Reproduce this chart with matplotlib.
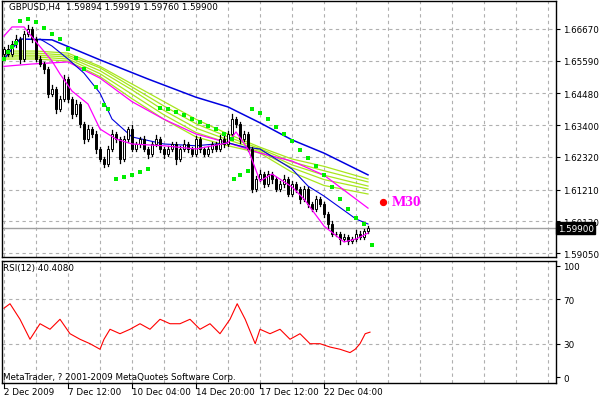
import matplotlib
matplotlib.use("Agg")
import matplotlib.pyplot as plt
import numpy as np

closes = [1.6599,1.6582,1.6616,1.6633,1.6565,
1.6650,1.6667,1.6633,1.6565,1.6548,
1.6531,1.6446,1.6463,1.6395,1.6429,
1.6497,1.6429,1.6378,1.6412,1.6344,
1.6293,1.6327,1.6310,1.6259,1.6225,
1.6208,1.6259,1.6310,1.6293,1.6225,
1.6293,1.6327,1.6259,1.6276,1.6293,
1.6259,1.6242,1.6276,1.6293,1.6259,
1.6242,1.6259,1.6276,1.6225,1.6259,
1.6276,1.6259,1.6242,1.6293,1.6259,
1.6242,1.6259,1.6276,1.6259,1.6293,
1.6276,1.6310,1.6361,1.6344,1.6293,
1.6310,1.6259,1.6123,1.6157,1.6174,
1.6140,1.6174,1.6157,1.6123,1.6140,
1.6157,1.6106,1.6140,1.6123,1.6089,
1.6123,1.6072,1.6055,1.6089,1.6072,
1.6038,1.6004,1.5970,1.5970,1.5953,
1.5960,1.5946,1.5953,1.5970,1.5960,
1.5980,1.5990]
first_open = 1.6582
up_wick = [8,12,10,14,6, 10,12,8,6,10, 8,6,12,8,10, 14,6,8,12,6, 8,12,6,10,8, 6,10,14,8,6,
           10,8,12,6,8, 10,6,8,12,6, 8,10,6,8,10, 12,6,8,10,6, 8,10,6,8,12, 14,10,16,8,6,
           10,8,6,10,12, 8,10,6,8,10, 12,8,10,6,8, 10,8,6,10,8, 6,8,10,6,8, 10,6,8,12,10, 8,6]
lo_wick = [10,6,8,10,12, 6,8,10,6,8, 12,10,6,14,8, 6,10,12,8,10, 12,6,10,14,8, 10,6,8,10,12,
           6,10,8,6,10, 8,12,6,8,10, 12,6,8,16,6, 8,10,6,8,10, 6,8,10,6,8, 10,8,6,10,12,
           8,6,10,8,6, 10,8,12,6,8, 10,6,8,10,12, 6,10,8,6,8, 10,12,8,6,18, 8,10,6,8,6, 8,6]

blue_slow_x = [0,4,12,24,36,48,56,64,72,80,91]
blue_slow_y = [1.6565,1.6633,1.6630,1.6562,1.6497,1.6435,1.6402,1.6348,1.6290,1.6245,1.6171]
blue_fast_x = [9,12,16,20,24,27,32,40,48,56,60,64,72,76,80,88,91]
blue_fast_y = [1.6633,1.6609,1.6565,1.6517,1.6449,1.6361,1.6300,1.6276,1.6270,1.6280,1.6266,1.6259,1.6191,1.6133,1.6099,1.6021,1.6004]
mag_fast_x = [0,2,5,7,12,14,17,21,24,28,32,40,48,56,58,61,64,67,72,75,80,85,88,91]
mag_fast_y = [1.6643,1.6674,1.6674,1.6640,1.6558,1.6514,1.6456,1.6412,1.6327,1.6293,1.6276,1.6270,1.6259,1.6280,1.6317,1.6259,1.6150,1.6174,1.6130,1.6089,1.5997,1.5943,1.5953,1.5973]
mag_slow_x = [0,7,16,24,32,40,48,56,64,72,80,91]
mag_slow_y = [1.6540,1.6548,1.6555,1.6500,1.6420,1.6360,1.6310,1.6280,1.6245,1.6218,1.6170,1.6058]
green_x = [0,8,16,24,32,40,48,56,64,72,80,91]
green_lines = [
 [1.6592,1.6592,1.6585,1.6540,1.6480,1.6420,1.6360,1.6310,1.6265,1.6225,1.6200,1.6157],
 [1.6585,1.6585,1.6578,1.6535,1.6470,1.6405,1.6345,1.6300,1.6260,1.6215,1.6185,1.6147],
 [1.6578,1.6578,1.6572,1.6525,1.6460,1.6390,1.6330,1.6290,1.6255,1.6205,1.6170,1.6133],
 [1.6572,1.6572,1.6565,1.6515,1.6445,1.6375,1.6315,1.6280,1.6250,1.6195,1.6155,1.6123],
 [1.6565,1.6565,1.6558,1.6505,1.6430,1.6360,1.6300,1.6270,1.6245,1.6180,1.6135,1.6106],
]
sar_x = [0,1,2,3, 4,6,8,10,12,14,16,18,20,23,25,26,
         28,30,32,34,36, 39,41,43,45,47,49,51,53,55,57,
         57.5,59,61, 62,64,66,68,70,72,74,76,78,80,82,84,86,88,90, 92]
sar_y = [1.6565,1.6590,1.6607,1.6620, 1.6694,1.6700,1.6690,1.6670,1.6650,1.6633,1.6600,1.6570,1.6530,1.6470,1.6410,1.6395,
         1.6157,1.6165,1.6172,1.6182,1.6192, 1.6400,1.6395,1.6385,1.6375,1.6362,1.6352,1.6338,1.6327,1.6310,1.6293,
         1.6157,1.6170,1.6185, 1.6395,1.6380,1.6360,1.6335,1.6310,1.6285,1.6255,1.6230,1.6200,1.6170,1.6130,1.6090,1.6055,1.6025,1.6004, 1.5933]
rsi_x = [0,1.5,4,6.5,9,11.5,14,16.5,19,21.5,24,25,26.5,29,31.5,34,36.5,39,41.5,44,46.5,49,51.5,54,56.5,58.3,60.3,62.8,64,66.5,69,71.5,74,76.5,79,81.5,84,86.5,87.8,89,90.3,91.5]
rsi_y = [62,66,52,34,48,43,52,39,34,30,25,34,43,39,43,48,43,52,48,48,52,43,48,39,52,66,52,30,43,39,43,34,39,30,30,27,25,22,25,30,39,40.4]

price_ticks = [1.66670,1.65590,1.64480,1.63400,1.62320,1.61210,1.60130,1.59050]
rsi_ticks = [100,70,30,0]
date_pos = [0,16,32,48,64,80]
date_labels = ["2 Dec 2009","7 Dec 12:00","10 Dec 04:00","14 Dec 20:00","17 Dec 12:00","22 Dec 04:00"]

FS = 6.3
W, H = 599, 402
fig = plt.figure(figsize=(W/100, H/100), dpi=100)
def box(l, t, r, b):
    return [l/W, 1-b/H, (r-l)/W, (b-t)/H]
ax = fig.add_axes(box(2, 2, 556, 258))
ax2 = fig.add_axes(box(2, 262, 556, 384))
for a in (ax, ax2):
    a.set_xlim(-0.5, 138)
    for s in a.spines.values():
        s.set_color("black"); s.set_linewidth(1)
    a.yaxis.tick_right()
    a.tick_params(axis="y", labelsize=FS, length=3, pad=2, colors="black")
    a.set_xticks(np.arange(0, 138, 8))
    a.grid(True, color="#b0b0b0", linestyle=(0, (3, 3)), linewidth=0.8)
    a.set_axisbelow(True)
ax.set_ylim(1.58918, 1.67622)
ax.set_yticks(price_ticks)
ax.set_yticklabels([f"{v:.5f}" for v in price_ticks])
ax.tick_params(axis="x", length=0, labelbottom=False)
ax2.set_ylim(-5.4, 104.5)
ax2.set_yticks(rsi_ticks)
ax2.set_yticklabels([str(v) for v in rsi_ticks])
ax2.tick_params(axis="x", length=0, labelbottom=False)
ax2.yaxis.grid(False)
for v in (70, 30):
    ax2.axhline(v, color="#b0b0b0", linestyle=(0, (3, 3)), linewidth=0.8, zorder=0)

for gl in green_lines:
    ax.plot(green_x, gl, color="#a8e61d", lw=0.9, zorder=2)
ax.plot(mag_slow_x, mag_slow_y, color="#ff00ff", lw=0.9, zorder=3)
ax.plot(blue_slow_x, blue_slow_y, color="#0000e0", lw=1.1, zorder=3)
ax.plot(blue_fast_x, blue_fast_y, color="#0000e0", lw=0.8, zorder=3)

opens = [first_open] + closes[:-1]
for i, (o, c) in enumerate(zip(opens, closes)):
    hi = max(o, c) + up_wick[i] * 0.0001
    lo = min(o, c) - lo_wick[i] * 0.0001
    ax.plot([i, i], [lo, hi], color="black", lw=0.9, zorder=4)
    bull = c >= o
    hgt = max(abs(c - o), 0.00015)
    ax.add_patch(plt.Rectangle((i - 0.35, min(o, c)), 0.7, hgt,
                 facecolor="white" if bull else "black", edgecolor="black", lw=0.7, zorder=5))
ax.plot(mag_fast_x, mag_fast_y, color="#ff00ff", lw=0.9, zorder=6)
ax.scatter(sar_x, sar_y, s=9, marker="s", color="#00ee00", zorder=7, linewidths=0)

last = closes[-1]
ax.axhline(last, color="#a0a0a0", lw=1, zorder=1)
ax.text(1.003, last, f"{last:.5f}", transform=ax.get_yaxis_transform(), fontsize=FS,
        color="white", va="center", ha="left", bbox=dict(boxstyle="square,pad=0.2", fc="black", ec="black"), zorder=10, clip_on=False)
ax.scatter([94.8], [1.6079], s=18, color="#ff0000", zorder=8)
ax.text(97, 1.6079, "M30", color="#ff00ff", fontsize=11, fontweight="bold", family="Liberation Serif", va="center", ha="left")
ax.text(0.012, 0.995, "GBPUSD,H4  1.59894 1.59919 1.59760 1.59900", transform=ax.transAxes,
        fontsize=FS, va="top", ha="left", color="black")

ax2.plot(rsi_x, rsi_y, color="#ff0000", lw=0.8)
ax2.text(0.002, 0.98, "RSI(12) 40.4080", transform=ax2.transAxes, fontsize=FS, va="top", ha="left")
ax2.text(0.002, 0.02, "MetaTrader, ? 2001-2009 MetaQuotes Software Corp.", transform=ax2.transAxes,
         fontsize=FS, va="bottom", ha="left")

for p, lab in zip(date_pos, date_labels):
    ax2.text(p, -0.03, lab, transform=ax2.get_xaxis_transform(), fontsize=FS, va="top", ha="left")
    ax2.plot([p, p], [-0.04, 0], transform=ax2.get_xaxis_transform(), color="black", lw=0.8, clip_on=False)

fig.savefig("out.png", dpi=100, facecolor="white")
